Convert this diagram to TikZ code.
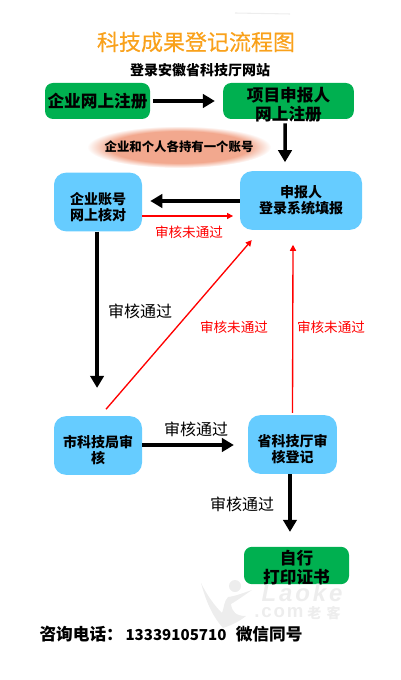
\documentclass[tikz,border=0pt]{standalone}
\usepackage{fontspec}
\setmainfont{Noto Sans CJK SC}
\newfontfamily\titlefont[FakeBold=0.4]{Noto Sans CJK SC}
\newfontfamily\lkfont[LetterSpace=12]{Liberation Sans}
\newfontfamily\comfont[LetterSpace=10]{Liberation Sans}
\usetikzlibrary{arrows.meta,shapes.geometric}
\definecolor{boxgreen}{HTML}{00B050}
\definecolor{boxblue}{HTML}{66CCFF}
\definecolor{titleorange}{HTML}{F9A11B}
\definecolor{glowred}{HTML}{F2A88E}
\definecolor{markgray}{HTML}{EDEDED}
\pgfdeclareradialshading{glow}{\pgfpoint{0bp}{0bp}}{color(0bp)=(glowred); color(19bp)=(glowred); color(25bp)=(white); color(50bp)=(white)}
\tikzset{
	greenbox/.style={fill=boxgreen, rounded corners=6pt, font=\bfseries\fontsize{12.5}{14.25}\selectfont, align=center, inner sep=0pt},
	bluebox/.style={fill=boxblue, rounded corners=9pt, font=\bfseries\fontsize{10.5}{12}\selectfont, align=center, inner sep=0pt},
	blackarrow/.style={line width=2.6pt, -{Triangle[length=9pt,width=10pt]}},
	redarrow/.style={red, line width=1pt, -{Triangle[length=4.5pt,width=4.5pt]}},
	passlabel/.style={font=\fontsize{12}{14}\selectfont},
	faillabel/.style={red, font=\fontsize{10.2}{12}\selectfont}
}
\begin{document}
\begin{tikzpicture}[x=0.75pt,y=-0.75pt]
	\useasboundingbox (0,0) rectangle (400,680);
	
	\draw [markgray, line width=0.8pt] (235,13) -- (290,14);
	
	\node at (196,42) [titleorange, font=\titlefont\fontsize{16.5}{18}\selectfont] (title) {科技成果登记流程图};
	\node at (200,70) [font=\bfseries\fontsize{10.5}{12}\selectfont] (site) {登录安徽省科技厅网站};
	
	\node at (97.5,101) [greenbox, minimum width=78.75pt, minimum height=27pt] (companyreg) {企业网上注册};
	\node at (288.5,101) [greenbox, minimum width=98pt, minimum height=27pt, text height=30.2pt, inner ysep=-5pt] (applicantreg) {项目申报人\\网上注册};
	\node at (179,147) [ellipse, minimum width=138pt, minimum height=31.5pt, inner xsep=-7pt, inner ysep=0pt, shading=glow, font=\bfseries\fontsize{9.3}{11}\selectfont] (account) {企业和个人各持有一个账号};
	
	\node at (98,202) [bluebox, minimum width=66pt, minimum height=44pt, text height=28.7pt] (companycheck) {企业账号\\网上核对};
	\node at (301,200.5) [bluebox, minimum width=91.5pt, minimum height=44pt] (fillin) {申报人\\登录系统填报};
	\node at (98,445.5) [bluebox, minimum width=66pt, minimum height=44pt, text height=27.3pt] (cityaudit) {市科技局审\\核};
	\node at (292.5,444.5) [bluebox, minimum width=66.5pt, minimum height=44pt, text height=28pt] (provaudit) {省科技厅审\\核登记};
	\node at (296.5,565.5) [greenbox, minimum width=78.75pt, minimum height=28pt, text height=27.5pt, inner ysep=-4pt] (printcert) {自行\\打印证书};
	
	\draw [blackarrow] ([xshift=2pt]companyreg.east) -- ([xshift=-6pt]applicantreg.west);
	\draw [blackarrow] ([xshift=-2.6pt,yshift=-3pt]applicantreg.south) -- ([xshift=-12pt,yshift=6.5pt]fillin.north);
	\draw [blackarrow] (fillin.west |- 240,201) -- ([xshift=6pt]companycheck.east |- 240,201);
	\draw [redarrow] (companycheck.east |- 240,216) -- ([xshift=-5pt]fillin.west |- 240,216);
	\draw [blackarrow] ([xshift=-0.7pt]companycheck.south) -- ([xshift=-0.7pt,yshift=21pt]cityaudit.north);
	\draw [redarrow] ([xshift=6pt,yshift=5pt]cityaudit.north) -- ([xshift=9pt,yshift=-7.5pt]fillin.south west);
	\draw [redarrow] ([yshift=1.5pt]provaudit.north) -- ([xshift=-6pt,yshift=-11pt]fillin.south);
	\draw [blackarrow] (cityaudit.east |- 142,445) -- ([xshift=-10.5pt]provaudit.west |- 142,445);
	\draw [blackarrow] ([xshift=-1.9pt]provaudit.south) -- ([xshift=-4.9pt,yshift=11pt]printcert.north);
	
	\node at (189,232) [faillabel] (fail1) {审核未通过};
	\node at (234,327) [faillabel] (fail2) {审核未通过};
	\node at (331,327) [faillabel] (fail3) {审核未通过};
	\node at (140,311) [passlabel] (pass1) {审核通过};
	\node at (196,429) [passlabel] (pass2) {审核通过};
	\node at (242,504) [passlabel] (pass3) {审核通过};
	
	\fill [markgray] (201,583) .. controls (207,605) and (214,618) .. (223,628) .. controls (232,625) and (240,621) .. (246,616) .. controls (236,616) and (232,612) .. (231,604) .. controls (238,600) and (246,594) .. (252,590) .. controls (243,593) and (236,596) .. (228,597) .. controls (224,601) and (224,608) .. (222,613) .. controls (214,605) and (207,595) .. (201,583) -- cycle;
	\fill [markgray] (235,586) circle (6);
	\node at (302,593) [markgray, inner sep=0pt, text height=12.5pt, text depth=0pt, font=\lkfont\bfseries\itshape\fontsize{18}{20}\selectfont] (marklogo) {Laoke};
	\node at (279,613) [markgray, inner sep=0pt, font=\comfont\bfseries\fontsize{14}{15}\selectfont] (markcom) {.com};
	\node at (324,613) [markgray, inner sep=0pt, font=\bfseries\fontsize{10.5}{12}\selectfont] (markname) {老\hspace{4pt}客};
	
	\node at (171,634) [font=\bfseries\fontsize{12.5}{14}\selectfont] (contact) {咨询电话：\hspace{2pt}{\fontsize{11.3}{14}\selectfont 13339105710}\hspace{7pt}微信同号};
\end{tikzpicture}
\end{document}
